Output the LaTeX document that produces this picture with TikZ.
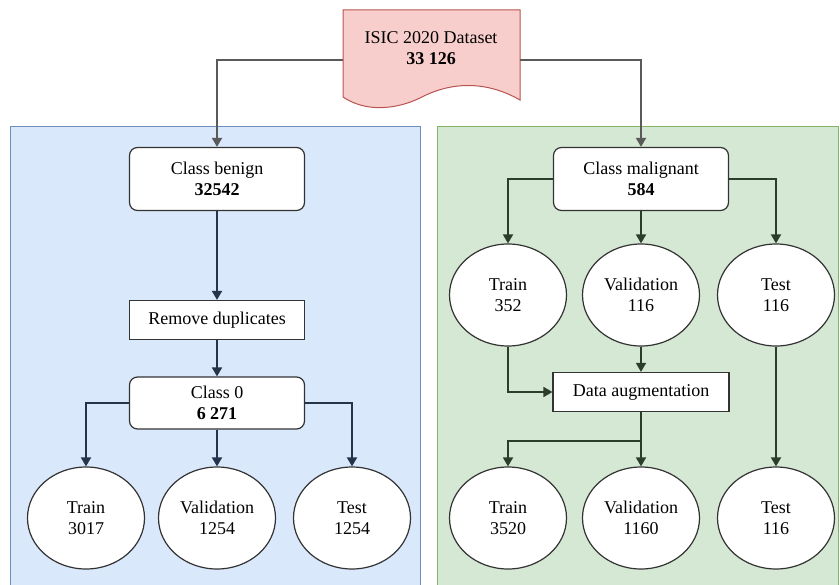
\documentclass[tikz,border=0pt]{standalone}
\usepackage{fontspec}
\setmainfont{Liberation Serif}
\usetikzlibrary{arrows.meta,shapes.geometric}
\definecolor{bluefill}{HTML}{DAE8FC}
\definecolor{blueline}{HTML}{6C8EBF}
\definecolor{greenfill}{HTML}{D5E8D4}
\definecolor{greenline}{HTML}{82B366}
\definecolor{redfill}{HTML}{F8CECC}
\definecolor{redline}{HTML}{B85450}
\definecolor{lcol}{HTML}{25344A}
\definecolor{rcol}{HTML}{2C3D2C}
\definecolor{tcol}{HTML}{5A5A5A}
\definecolor{bcol}{HTML}{333333}
\tikzset{
  txt/.style={font=\fontsize{18}{21}\selectfont, align=center, inner sep=0pt},
  rbox/.style={txt, draw=bcol, fill=white, line width=1.2pt, rounded corners=8pt, minimum width=175pt},
  sbox/.style={txt, draw=bcol, fill=white, line width=1.2pt, minimum width=175pt, minimum height=39pt},
  circ/.style={txt, ellipse, draw=bcol, fill=white, line width=1.2pt, minimum width=117pt, minimum height=102pt},
  arr/.style={line width=1.8pt, -{Triangle[width=10pt,length=9pt]}},
}
\begin{document}
\begin{tikzpicture}[x=1pt,y=-1pt]
\useasboundingbox (0,0) rectangle (840,585);
% panels
\fill[bluefill] (10,127) rectangle (420,586);
\draw[blueline, line width=1pt] (10,586) -- (10,127) -- (420,127) -- (420,586);
\fill[greenfill] (437,127) rectangle (838,586);
\draw[greenline, line width=1pt] (437,586) -- (437,127) -- (838,127) -- (838,586);
% document shape
\draw[redline, fill=redfill, line width=1pt] (343,10) -- (520,10) -- (520,100)
  .. controls (485,80) and (450,82) .. (420,98)
  .. controls (395,110) and (365,112) .. (343,97) -- cycle;
\node[txt] (doc) at (431,48) {ISIC 2020 Dataset\\\textbf{33 126}};
\coordinate (dl) at (343,60);
\coordinate (dr) at (520,60);
% left
\node[rbox, minimum height=63pt] (cb) at (217,179) {Class benign\\\textbf{32542}};
\node[sbox] (rd) at (217,320) {Remove duplicates};
\node[rbox, minimum height=52pt] (c0) at (217,403) {Class 0\\\textbf{6 271}};
\node[circ] (lt) at (86,518) {Train\\3017};
\node[circ] (lv) at (217,518) {Validation\\1254};
\node[circ] (ls) at (352,518) {Test\\1254};
% right
\node[rbox, minimum height=63pt] (cm) at (641,179) {Class malignant\\\textbf{584}};
\node[circ] (mt) at (508,295) {Train\\352};
\node[circ] (mv) at (641,295) {Validation\\116};
\node[circ] (ms) at (776,295) {Test\\116};
\node[sbox, minimum width=176pt] (aug) at (641,392) {Data augmentation};
\node[circ] (bt) at (508,518) {Train\\3520};
\node[circ] (bv) at (641,518) {Validation\\1160};
\node[circ] (bs) at (776,518) {Test\\116};
\coordinate (j) at (641,441);
% connectors
\draw[arr, tcol] (dl) -| (cb.north);
\draw[arr, tcol] (dr) -| (cm.north);
\draw[arr, lcol] (cb) -- (rd);
\draw[arr, lcol] (rd) -- (c0);
\draw[arr, lcol] (c0.west) -| (lt.north);
\draw[arr, lcol] (c0) -- (lv);
\draw[arr, lcol] (c0.east) -| (ls.north);
\draw[arr, rcol] (cm.west) -| (mt.north);
\draw[arr, rcol] (cm) -- (mv);
\draw[arr, rcol] (cm.east) -| (ms.north);
\draw[arr, rcol] (mt.south) |- (aug.west);
\draw[arr, rcol] (mv) -- (aug);
\draw[arr, rcol] (ms) -- (bs);
\draw[arr, rcol] (aug) -- (bv);
\draw[arr, rcol] (aug.south) -- (j) -| (bt.north);
\end{tikzpicture}
\end{document}
